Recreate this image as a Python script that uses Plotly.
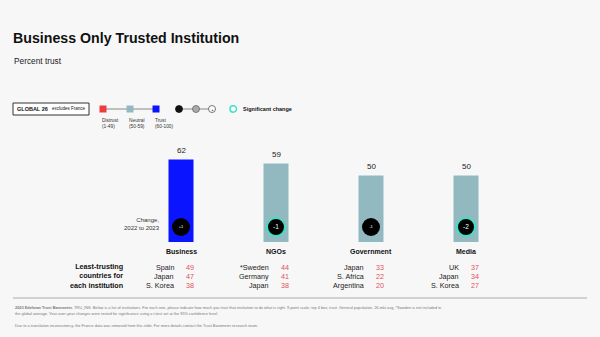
import plotly.graph_objects as go

# ---- data ----
institutions = ["Business", "NGOs", "Government", "Media"]
trust_values = [62, 59, 50, 50]
trust_levels = ["Trust", "Neutral", "Neutral", "Neutral"]
change_labels = ["+1", "-1", "-1", "-2"]
change_significant = [False, True, False, True]
least_countries = [["Spain", "Japan", "S. Korea"],
                   ["*Sweden", "Germany", "Japan"],
                   ["Japan", "S. Africa", "Argentina"],
                   ["UK", "Japan", "S. Korea"]]
least_values = [[49, 47, 38], [44, 41, 38], [33, 22, 20], [37, 34, 27]]

W, H = 600, 337
BG = "#f7f7f7"
COLORS = {"Distrust": "#ee3b3b", "Neutral": "#93b9c0", "Trust": "#0a14ff"}
RED_NUM = "#e0525a"
TURQ = "#3fe0c5"
FONT = "Liberation Sans, Arial, sans-serif"

def px(x):
    return x / W

def py(y):
    return 1 - y / H

# axes mapping: category i centre at pixel 181 + 95*i, zero at y pixel 242, 1.33 px per unit
X0, DX = 181, 95
Y0, DY = 242, 1.33
x_range = [-X0 / DX, (W - X0) / DX]
y_range = [-(H - Y0) / DY, Y0 / DY]
xpos = list(range(len(institutions)))

fig = go.Figure()
fig.add_trace(go.Bar(
    x=xpos, y=trust_values, width=25 / DX,
    marker=dict(color=[COLORS[l] for l in trust_levels], line=dict(width=0)),
    showlegend=False, hoverinfo="skip",
))
circle_y = (Y0 - 227) / DY
fig.add_trace(go.Scatter(
    x=xpos, y=[circle_y] * len(xpos), mode="markers+text",
    marker=dict(size=18, color="#000000",
                line=dict(width=[2 if s else 0 for s in change_significant], color=TURQ)),
    text=change_labels, textposition="middle center",
    textfont=dict(color="white", size=[4 if not s else 6.5 for s in change_significant], family=FONT),
    showlegend=False, hoverinfo="skip",
))

ann = []
shapes = []

def text(x, y, s, size, color="#111", bold=False, xanchor="left", yanchor="middle", align="left", family=FONT):
    ann.append(dict(x=px(x), y=py(y), xref="paper", yref="paper", text=(f"<b>{s}</b>" if bold else s),
                    showarrow=False, xanchor=xanchor, yanchor=yanchor, align=align,
                    font=dict(size=size, color=color, family=family)))

# title
text(11, 38, "Business Only Trusted Institution", 14.2, "#111", bold=True)
text(12, 61, "Percent trust", 8.3, "#222")

# value labels above bars
for i, v in enumerate(trust_values):
    ann.append(dict(x=i, y=v, xref="x", yref="y", text=str(v), showarrow=False,
                    yanchor="bottom", yshift=3, font=dict(size=8, color="#222", family=FONT)))
    # category labels
    text(X0 + DX * i, 251, institutions[i], 7, "#111", bold=True, xanchor="center")
    # least trusting
    for r in range(3):
        yy = 267 + 9 * r
        text(X0 + DX * i - 5, yy, least_countries[i][r], 7.2, "#222", xanchor="right")
        text(X0 + DX * i + 3, yy, str(least_values[i][r]), 7.2, RED_NUM, xanchor="left")

text(125, 276, "Least-trusting<br>countries for<br>each institution", 7.2, "#111", bold=True,
     xanchor="right", align="right")
text(162, 224, "Change,<br>2022 to 2023", 6, "#333", xanchor="right", align="right")

# legend
shapes.append(dict(type="rect", xref="paper", yref="paper", x0=px(13), x1=px(89), y0=py(103), y1=py(115),
                   line=dict(color="#333", width=1), fillcolor="white"))
text(15, 109, "<b>GLOBAL 26</b>", 5.5, "#111")
text(50, 109, "excludes France", 4.5, "#111")
shapes.append(dict(type="line", xref="paper", yref="paper", x0=px(103), x1=px(156), y0=py(109), y1=py(109),
                   line=dict(color="#888", width=1)))
for xx, lab, rng in [(103, "Distrust", "(1-49)"), (130, "Neutral", "(50-59)"), (156, "Trust", "(60-100)")]:
    shapes.append(dict(type="rect", xref="paper", yref="paper", x0=px(xx - 3.5), x1=px(xx + 3.5),
                       y0=py(105.5), y1=py(112.5), line=dict(width=0), fillcolor=COLORS[lab]))
    text(xx - 3, 123.5, lab + "<br>" + rng, 4.8, "#333")
shapes.append(dict(type="line", xref="paper", yref="paper", x0=px(179), x1=px(212), y0=py(109), y1=py(109),
                   line=dict(color="#888", width=1)))
for xx, fill, lc in [(179, "#111", "#111"), (196, "#aaa", "#666"), (212, "white", "#555")]:
    shapes.append(dict(type="circle", xref="paper", yref="paper", x0=px(xx - 3.5), x1=px(xx + 3.5),
                       y0=py(105.5), y1=py(112.5), line=dict(color=lc, width=0.8), fillcolor=fill))
text(212, 109.5, "▲", 3, "#555", xanchor="center")
shapes.append(dict(type="circle", xref="paper", yref="paper", x0=px(230), x1=px(236.5),
                   y0=py(105.8), y1=py(112.2), line=dict(color=TURQ, width=1.5), fillcolor="white"))
text(241, 109, "Significant change", 5.5, "#111", bold=True)

# footer
shapes.append(dict(type="line", xref="paper", yref="paper", x0=px(13), x1=px(587), y0=py(298), y1=py(298),
                   line=dict(color="#999", width=0.8)))
FOOT = 3.9
text(13, 307, "<b>2023 Edelman Trust Barometer.</b> TRU_INS. Below is a list of institutions. For each one, please indicate how much you trust that institution to do what is right. 9-point scale; top 4 box, trust. General population, 26-mkt avg. *Sweden is not included in", FOOT, "#777")
text(13, 313, "the global average. Year-over-year changes were tested for significance using a t-test set at the 95% confidence level.", FOOT, "#777")
text(13, 325, "Due to a translation inconsistency, the France data was removed from this slide. For more details contact the Trust Barometer research team.", FOOT, "#777")

fig.update_layout(
    width=W, height=H, margin=dict(l=0, r=0, t=0, b=0),
    paper_bgcolor=BG, plot_bgcolor=BG,
    xaxis=dict(range=x_range, visible=False, fixedrange=True),
    yaxis=dict(range=y_range, visible=False, fixedrange=True),
    annotations=ann, shapes=shapes, showlegend=False,
)
fig.write_html("out.html")
